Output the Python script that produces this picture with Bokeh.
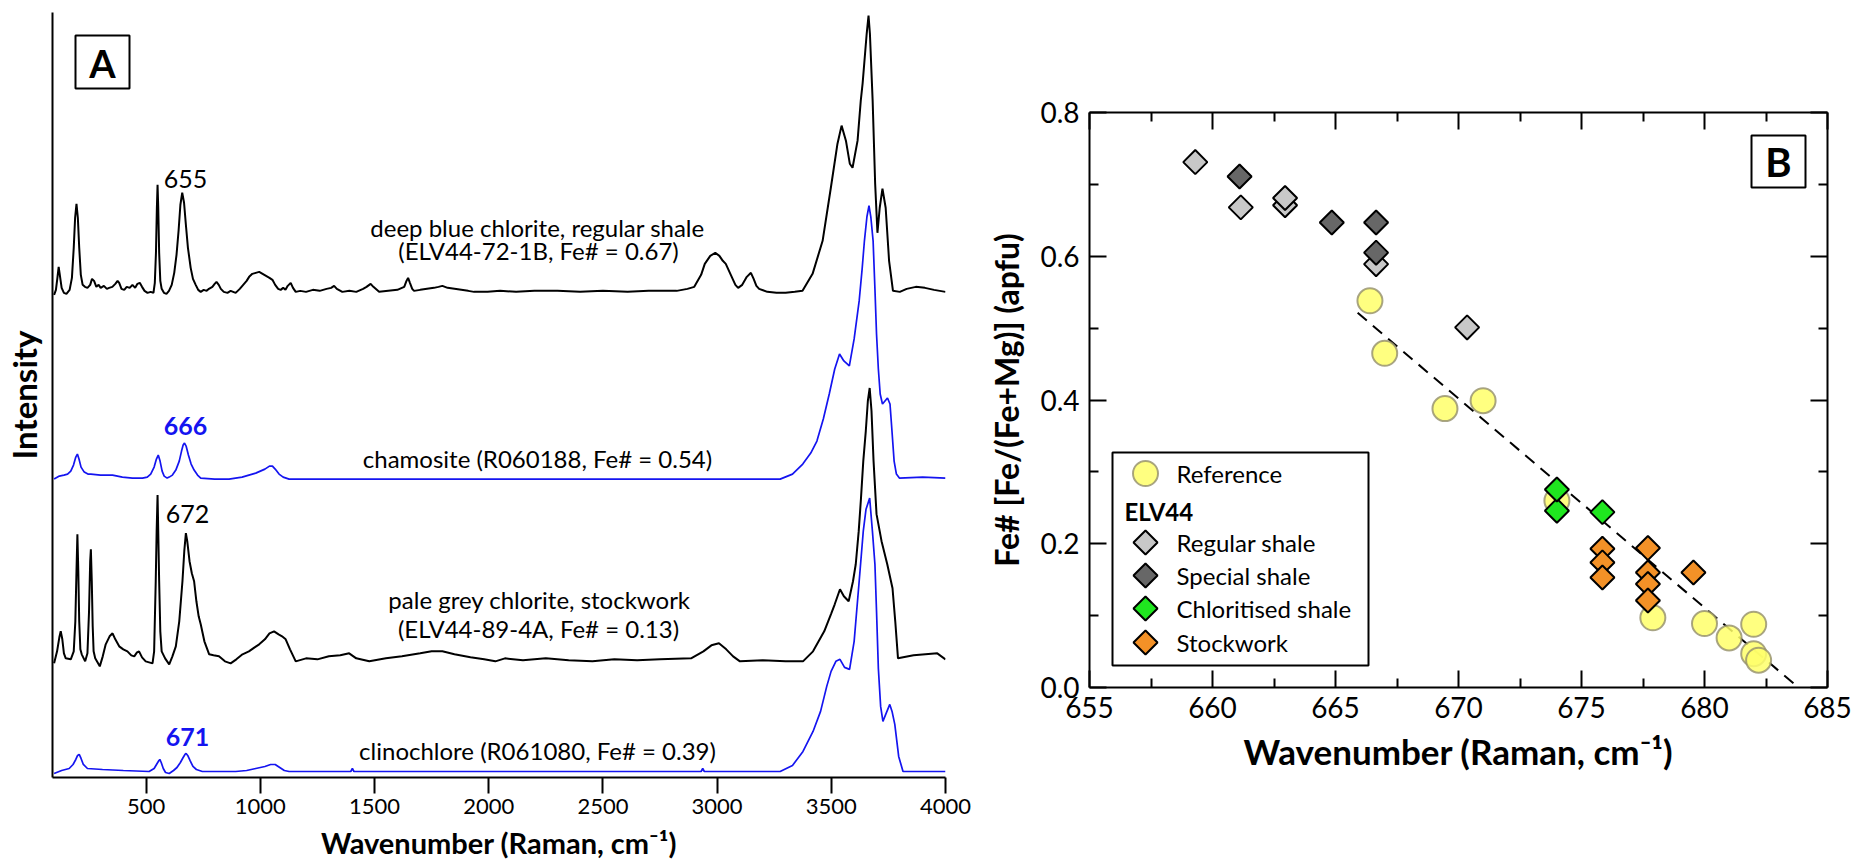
import math
from bokeh.plotting import figure
from bokeh.models import (Range1d, FixedTicker, LinearAxis, Label, BoxAnnotation,
                          PrintfTickFormatter)
from bokeh.layouts import row
from bokeh.embed import file_html
from bokeh.resources import INLINE

FONT = "Lato"
BLUE = "#1414f0"

# ---------------- Panel A : Raman spectra (wavenumber, relative intensity) ----------------
wn_deepblue = [97, 105, 112, 117, 122, 130, 140, 151, 165, 175, 183, 189, 195, 201, 207, 214, 222, 232,
               243, 255, 263, 272, 282, 292, 301, 315, 328, 338, 352, 365, 375, 382, 392, 404, 415, 428,
               440, 452, 462, 472, 482, 493, 506, 520, 532, 538, 543, 547, 550, 553, 557, 562, 568, 578,
               589, 600, 612, 623, 633, 642, 650, 658, 666, 674, 683, 695, 705, 717, 728, 739, 752, 765,
               775, 790, 800, 808, 818, 827, 840, 856, 870, 892, 910, 925, 940, 951, 965, 980, 995, 1010,
               1025, 1040, 1053, 1065, 1078, 1089, 1100, 1110, 1120, 1133, 1143, 1155, 1175, 1200, 1230,
               1260, 1290, 1310, 1323, 1335, 1359, 1390, 1420, 1450, 1465, 1483, 1495, 1510, 1520, 1560,
               1600, 1630, 1640, 1647, 1655, 1665, 1673, 1700, 1730, 1760, 1780, 1797, 1820, 1850, 1880,
               1910, 1936, 1995, 2050, 2120, 2200, 2301, 2400, 2500, 2608, 2700, 2823, 2870, 2900, 2930,
               2946, 2970, 2992, 3010, 3025, 3038, 3060, 3080, 3092, 3110, 3130, 3148, 3160, 3172, 3184,
               3220, 3260, 3300, 3340, 3374, 3418, 3462, 3498, 3527, 3545, 3564, 3581, 3593, 3615, 3629,
               3637, 3655, 3663, 3669, 3681, 3692, 3702, 3712, 3724, 3738, 3753, 3770, 3800, 3830, 3870,
               3910, 3950, 4000]
int_deepblue = [-2, 3, 16, 26, 18, 5, 0, -1, 3, 15, 45, 75, 89, 75, 45, 18, 8, 6,
                5, 8, 14, 12, 6, 8, 5, 7, 4, 5, 6, 9, 12, 10, 4, 3, 6, 5,
                8, 5, 9, 10, 6, 2, 0, 1, 0, 10, 40, 85, 108, 85, 40, 12, 4, 0,
                -1, 2, 8, 20, 38, 62, 88, 100, 90, 68, 45, 25, 14, 8, 3, 1, 3, 2,
                4, 6, 9, 11, 8, 4, 1, 0, 2, 0, 4, 8, 12, 16, 19, 20, 21, 19,
                17, 15, 13, 8, 4, 3, 5, 3, 7, 10, 5, 1, 2, 1, 3,
                2, 4, 5, 7, 4, 1, 2, 1, 4, 6, 9, 6, 3, 1, 2,
                3, 6, 12, 15, 10, 4, 2, 3, 4, 5, 6, 7, 5, 4, 3,
                2, 1, 1, 2, 1, 2, 2, 1, 2, 1, 2, 2, 4, 6, 18,
                29, 37, 40, 37, 32, 29, 18, 8, 5, 8, 16, 20, 14, 7, 4,
                1, 0, 0, 1, 2, 19, 52, 105, 149, 167, 152, 129, 125, 152, 192,
                209, 259, 277, 259, 192, 109, 60, 85, 104, 85, 32, 2, 1, 4, 6,
                5, 3, 1]

wn_chamosite = [97, 120, 140, 156, 170, 182, 192, 199, 206, 215, 229, 245, 258, 300, 353, 396, 440, 484,
                505, 520, 535, 545, 553, 561, 570, 579, 592, 601, 615, 630, 645, 655, 662, 668, 675, 685,
                697, 710, 725, 739, 800, 863, 920, 980, 1020, 1040, 1053, 1065, 1082, 1100, 1126, 2000,
                2900, 3276, 3330, 3375, 3410, 3437, 3465, 3491, 3515, 3536, 3555, 3579, 3600, 3622, 3635,
                3645, 3656, 3665, 3673, 3683, 3691, 3698, 3706, 3714, 3724, 3735, 3746, 3757, 3765, 3775,
                3785, 3798, 3900, 4000]
int_chamosite = [0, 3, 4, 5, 8, 14, 22, 25, 20, 12, 7, 5, 5, 4, 4, 2, 1, 1,
                 2, 5, 12, 20, 24, 18, 8, 3, 1, 2, 4, 9, 18, 28, 34, 36, 33, 24,
                 15, 9, 4, 1, 0, 0, 2, 6, 10, 13, 13, 10, 5, 2, 0, 0,
                 0, 0, 5, 15, 26, 38, 60, 85, 110, 125, 118, 113, 140, 178, 210,
                 238, 262, 273, 262, 238, 190, 145, 110, 85, 75, 78, 81, 75, 50, 18,
                 5, 1, 2, 1]

wn_palegrey = [97, 110, 120, 126, 133, 140, 148, 170, 183, 190, 195, 199, 203, 207, 212, 218, 233, 243,
               250, 255, 258, 262, 266, 270, 277, 297, 310, 323, 340, 353, 365, 382, 400, 418, 435, 448,
               460, 469, 482, 498, 528, 535, 539, 542, 546, 550, 553, 557, 562, 568, 583, 601, 615, 630,
               645, 659, 667, 674, 680, 690, 700, 710, 720, 730, 739, 755, 776, 795, 819, 845, 870, 895,
               922, 950, 975, 995, 1020, 1040, 1060, 1080, 1095, 1111, 1130, 1155, 1200, 1250, 1300, 1350,
               1389, 1420, 1477, 1550, 1620, 1700, 1750, 1797, 1850, 1920, 1980, 2029, 2071, 2150, 2250,
               2350, 2454, 2550, 2650, 2750, 2886, 2940, 2975, 3008, 3040, 3070, 3100, 3200, 3300, 3376,
               3420, 3469, 3500, 3515, 3538, 3555, 3576, 3595, 3607, 3620, 3630, 3640, 3651, 3660, 3668,
               3676, 3685, 3698, 3720, 3745, 3768, 3780, 3792, 3860, 3964, 4000]
int_palegrey = [-2, 10, 24, 30, 22, 8, 3, 2, 10, 40, 90, 127, 90, 40, 12, 7, 0, 8,
                50, 100, 112, 80, 35, 10, 3, -5, 5, 17, 25, 28, 22, 15, 12, 10, 6, 5,
                9, 10, 4, 0, -2, 10, 50, 80, 130, 166, 130, 80, 30, 10, 3, -3, 5, 15,
                40, 80, 110, 128, 120, 100, 88, 80, 60, 45, 37, 20, 7, 6, 5, 0, -2, 2,
                7, 10, 14, 17, 22, 28, 30, 27, 25, 22, 12, 0, 3, 2, 5, 6,
                8, 3, 0, 3, 5, 8, 10, 10, 7, 4, 2, 0, 3, 1, 3,
                1, 0, 2, 1, 2, 3, 10, 16, 18, 12, 5, 0, 1, 0, 0,
                10, 30, 48, 57, 72, 65, 60, 80, 97, 130, 163, 200, 230, 260, 273,
                250, 200, 147, 120, 97, 73, 40, 3, 6, 8, 2]

wn_clino = [97, 130, 163, 180, 192, 200, 207, 215, 225, 243, 309, 400, 513, 535, 548, 556, 560, 566,
            575, 585, 601, 620, 635, 650, 662, 670, 675, 682, 692, 705, 720, 746, 892, 940, 980, 1020,
            1045, 1065, 1085, 1105, 1126, 1396, 1403, 1410, 2930, 2937, 2944, 3276, 3330, 3376, 3420,
            3453, 3480, 3499, 3520, 3538, 3558, 3580, 3600, 3622, 3640, 3652, 3668, 3680, 3691, 3698,
            3706, 3716, 3726, 3740, 3756, 3766, 3778, 3795, 3814, 4000]
int_clino = [-2, 1, 3, 7, 12, 16, 17, 13, 7, 3, 2, 1, 0, 3, 8, 11, 12, 9,
             3, -1, -2, 1, 4, 9, 14, 17, 18, 16, 11, 5, 2, 0, 0, 1, 3, 5,
             7, 7, 4, 1, 0, 0, 3, 0, 0, 3, 0, 0, 6, 20, 40,
             60, 85, 100, 110, 112, 104, 102, 130, 190, 240, 262, 273, 240, 207, 160,
             103, 65, 50, 58, 67, 60, 47, 15, 0, 0]

offset_deepblue, offset_chamosite, offset_palegrey, offset_clino = 484, 298, 116, 6

ticks_A = [500, 1000, 1500, 2000, 2500, 3000, 3500, 4000]

# ---------------- Panel B : Fe# vs wavenumber ----------------
ref_x = [666.4, 667.0, 669.45, 671.0, 674.0, 677.9, 680.0, 681.0, 682.0, 682.0, 682.2]
ref_y = [0.538, 0.465, 0.388, 0.399, 0.260, 0.097, 0.089, 0.069, 0.088, 0.047, 0.038]
regular_x = [659.3, 661.15, 662.95, 662.95, 666.65, 670.35]
regular_y = [0.731, 0.668, 0.671, 0.681, 0.589, 0.501]
special_x = [661.1, 664.85, 666.65, 666.65]
special_y = [0.711, 0.647, 0.647, 0.605]
chlor_x = [674.0, 674.0, 675.85]
chlor_y = [0.246, 0.2755, 0.244]
stock_x = [675.85, 675.85, 675.85, 677.7, 677.7, 677.7, 677.7, 679.55]
stock_y = [0.193, 0.174, 0.153, 0.194, 0.160, 0.144, 0.121, 0.160]
fit_slope, fit_intercept = -0.0291, 19.899
fit_x = [665.9, 683.85]

ticks_Bx = [655, 660, 665, 670, 675, 680, 685]
ticks_By = [0.0, 0.2, 0.4, 0.6, 0.8]

for a, b in [(wn_deepblue, int_deepblue), (wn_chamosite, int_chamosite),
             (wn_palegrey, int_palegrey), (wn_clino, int_clino)]:
    assert len(a) == len(b), (len(a), len(b))

PAGE_W, PAGE_H = 1852, 862

# ================= Figure A =================
A_L, A_T, A_W, A_H = 50, 12, 893, 764          # frame in page pixels
A_R_BORDER = 26
xa0, xa1 = 90, 4000


def ax(px):
    return xa0 + (px - A_L) * (xa1 - xa0) / A_W


def ay(py):
    return (A_T + A_H) - py


pA = figure(frame_width=A_W, height=PAGE_H, x_range=Range1d(xa0, xa1), y_range=Range1d(0, A_H),
            output_backend="svg", toolbar_location=None,
            min_border_left=A_L, min_border_right=A_R_BORDER, min_border_top=A_T, min_border_bottom=0)
pA.frame_align = False
pA.outline_line_color = None
pA.grid.visible = False

xa = pA.xaxis[0]
xa.ticker = FixedTicker(ticks=ticks_A)
xa.major_tick_out = 16
xa.major_tick_in = 0
xa.minor_tick_out = 0
xa.minor_tick_in = 0
xa.axis_line_width = 2
xa.major_tick_line_width = 2
xa.major_label_standoff = 5
xa.major_label_text_font = FONT
xa.major_label_text_font_size = "22px"
xa.major_label_text_color = "black"
xa.axis_label = "Wavenumber (Raman, cm\u207b\u00b9)"
xa.axis_label_text_font = FONT
xa.axis_label_text_font_style = "bold"
xa.axis_label_text_font_size = "29px"
xa.axis_label_standoff = 8
xa.axis_label_text_color = "black"

ya = pA.yaxis[0]
ya.ticker = FixedTicker(ticks=[])
ya.major_tick_out = 0
ya.major_tick_in = 0
ya.minor_tick_out = 0
ya.minor_tick_in = 0
ya.axis_line_width = 2
ya.axis_label = "Intensity"
ya.axis_label_text_font = FONT
ya.axis_label_text_font_style = "bold"
ya.axis_label_text_font_size = "33px"
ya.axis_label_standoff = 9
ya.axis_label_text_color = "black"

pA.line(wn_clino, [v + offset_clino for v in int_clino], line_color=BLUE, line_width=1.7)
pA.line(wn_palegrey, [v + offset_palegrey for v in int_palegrey], line_color="black", line_width=2)
pA.line(wn_chamosite, [v + offset_chamosite for v in int_chamosite], line_color=BLUE, line_width=1.7)
pA.line(wn_deepblue, [v + offset_deepblue for v in int_deepblue], line_color="black", line_width=2)


def labA(px, py, text, color="black", size="24px", style="normal", align="center"):
    pA.add_layout(Label(x=ax(px), y=ay(py), text=text, text_font=FONT, text_font_size=size,
                        text_color=color, text_font_style=style, text_align=align,
                        text_baseline="middle"))


labA(183, 178, "655", size="25px")
labA(183, 425, "666", color=BLUE, size="25px", style="bold")
labA(185, 513, "672", size="25px")
labA(185, 736, "671", color=BLUE, size="25px", style="bold")
labA(535, 227, "deep blue chlorite, regular shale")
labA(536, 250, "(ELV44-72-1B, Fe# = 0.67)")
labA(535, 457, "chamosite (R060188, Fe# = 0.54)")
labA(537, 598, "pale grey chlorite, stockwork")
labA(536, 627, "(ELV44-89-4A, Fe# = 0.13)")
labA(535, 749, "clinochlore (R061080, Fe# = 0.39)")

pA.add_layout(BoxAnnotation(left=ax(73), right=ax(127), top=ay(35), bottom=ay(88),
                            fill_color="white", fill_alpha=1.0, line_color="black", line_width=2,
                            line_alpha=1.0))
labA(100, 62, "A", size="38px", style="bold")

# ================= Figure B =================
B_L, B_T, B_W, B_H = 1087, 112, 738, 575
xb0, xb1, yb0, yb1 = 655, 685, 0.0, 0.8
A_fig_right = A_L + A_W + A_R_BORDER


def bx(px):
    return xb0 + (px - B_L) * (xb1 - xb0) / B_W


def by(py):
    return yb0 + (B_T + B_H - py) * (yb1 - yb0) / B_H


pB = figure(frame_width=B_W, frame_height=B_H, x_range=Range1d(xb0, xb1), y_range=Range1d(yb0, yb1),
            output_backend="svg", toolbar_location=None,
            min_border_left=B_L - A_fig_right, min_border_right=PAGE_W - (B_L + B_W),
            min_border_top=B_T, min_border_bottom=PAGE_H - B_T - B_H)
pB.frame_align = False
pB.outline_line_color = None
pB.grid.visible = False

xticker = FixedTicker(ticks=ticks_Bx, minor_ticks=[657.5, 662.5, 667.5, 672.5, 677.5, 682.5])
yticker = FixedTicker(ticks=ticks_By, minor_ticks=[0.1, 0.3, 0.5, 0.7])


def style_axis(a, show_labels):
    a.major_tick_in = 17
    a.major_tick_out = 0
    a.minor_tick_in = 9
    a.minor_tick_out = 0
    a.axis_line_width = 2
    a.major_tick_line_width = 2
    a.minor_tick_line_width = 2
    a.axis_line_color = "black"
    a.major_tick_line_color = "black"
    a.minor_tick_line_color = "black"
    if show_labels:
        a.major_label_text_font = FONT
        a.major_label_text_font_size = "28px"
        a.major_label_text_color = "black"
        a.axis_label_text_font = FONT
        a.axis_label_text_font_style = "bold"
        a.axis_label_text_color = "black"
    else:
        a.major_label_text_font_size = "1px"
        a.major_label_text_color = None
        a.major_label_standoff = 0


bxa = pB.xaxis[0]
bxa.ticker = xticker
style_axis(bxa, True)
bxa.major_label_standoff = 9
bxa.axis_label = "Wavenumber (Raman, cm\u207b\u00b9)"
bxa.axis_label_text_font_size = "35px"
bxa.axis_label_standoff = 9

bya = pB.yaxis[0]
bya.ticker = yticker
style_axis(bya, True)
bya.formatter = PrintfTickFormatter(format="%.1f")
bya.major_label_standoff = 10
bya.axis_label = "Fe# [Fe/(Fe+Mg)] (apfu)"
bya.axis_label_text_font_size = "32px"
bya.axis_label_standoff = 11

top_ax = LinearAxis(ticker=xticker)
style_axis(top_ax, False)
pB.add_layout(top_ax, "above")
right_ax = LinearAxis(ticker=yticker)
style_axis(right_ax, False)
pB.add_layout(right_ax, "right")

# legend frame (under the glyphs)
pB.add_layout(BoxAnnotation(left=bx(1110), right=bx(1366), top=by(452), bottom=by(665),
                            fill_color="white", fill_alpha=1.0, line_color="black", line_width=2,
                            line_alpha=1.0, level="underlay"))

# regression line
pB.line(fit_x, [fit_intercept + fit_slope * x for x in fit_x], line_color="black",
        line_width=2, line_dash="12 8")

REF_FILL, REF_LINE = "#ffff6a", "#948f6c"
colors = {"regular": "#c8c8c8", "special": "#676767", "chlor": "#1fe61f", "stock": "#f39127"}
DIAM = 17
ANG = math.pi / 4

pB.scatter(ref_x, ref_y, marker="circle", size=25, fill_color=REF_FILL, fill_alpha=0.85,
           line_color=REF_LINE, line_width=2, line_alpha=0.8)
for key, xs, ys in [("regular", regular_x, regular_y), ("special", special_x, special_y),
                    ("chlor", chlor_x, chlor_y), ("stock", stock_x, stock_y)]:
    pB.scatter(xs, ys, marker="square", size=DIAM, angle=ANG, fill_color=colors[key],
               line_color="black", line_width=2)

# legend content
pB.scatter([bx(1143)], [by(473)], marker="circle", size=25, fill_color=REF_FILL, fill_alpha=0.85,
           line_color=REF_LINE, line_width=2, line_alpha=0.8)
leg_rows = [(542, "regular", "Regular shale"), (575, "special", "Special shale"),
            (608, "chlor", "Chloritised shale"), (642, "stock", "Stockwork")]
for py, key, _ in leg_rows:
    pB.scatter([bx(1143)], [by(py)], marker="square", size=DIAM, angle=ANG, fill_color=colors[key],
               line_color="black", line_width=2)


def labB(px, py, text, size="24px", style="normal", align="left"):
    pB.add_layout(Label(x=bx(px), y=by(py), text=text, text_font=FONT, text_font_size=size,
                        text_color="black", text_font_style=style, text_align=align,
                        text_baseline="middle"))


labB(1174, 473, "Reference")
labB(1122, 511, "ELV44", style="bold")
for py, _, txt in leg_rows:
    labB(1174, py, txt)

pB.add_layout(BoxAnnotation(left=bx(1749), right=bx(1803), top=by(135), bottom=by(187),
                            fill_color="white", fill_alpha=1.0, line_color="black", line_width=2,
                            line_alpha=1.0))
labB(1776, 161, "B", size="40px", style="bold", align="center")

layout = row(pA, pB)
open("out.html", "w").write(file_html(layout, INLINE))
